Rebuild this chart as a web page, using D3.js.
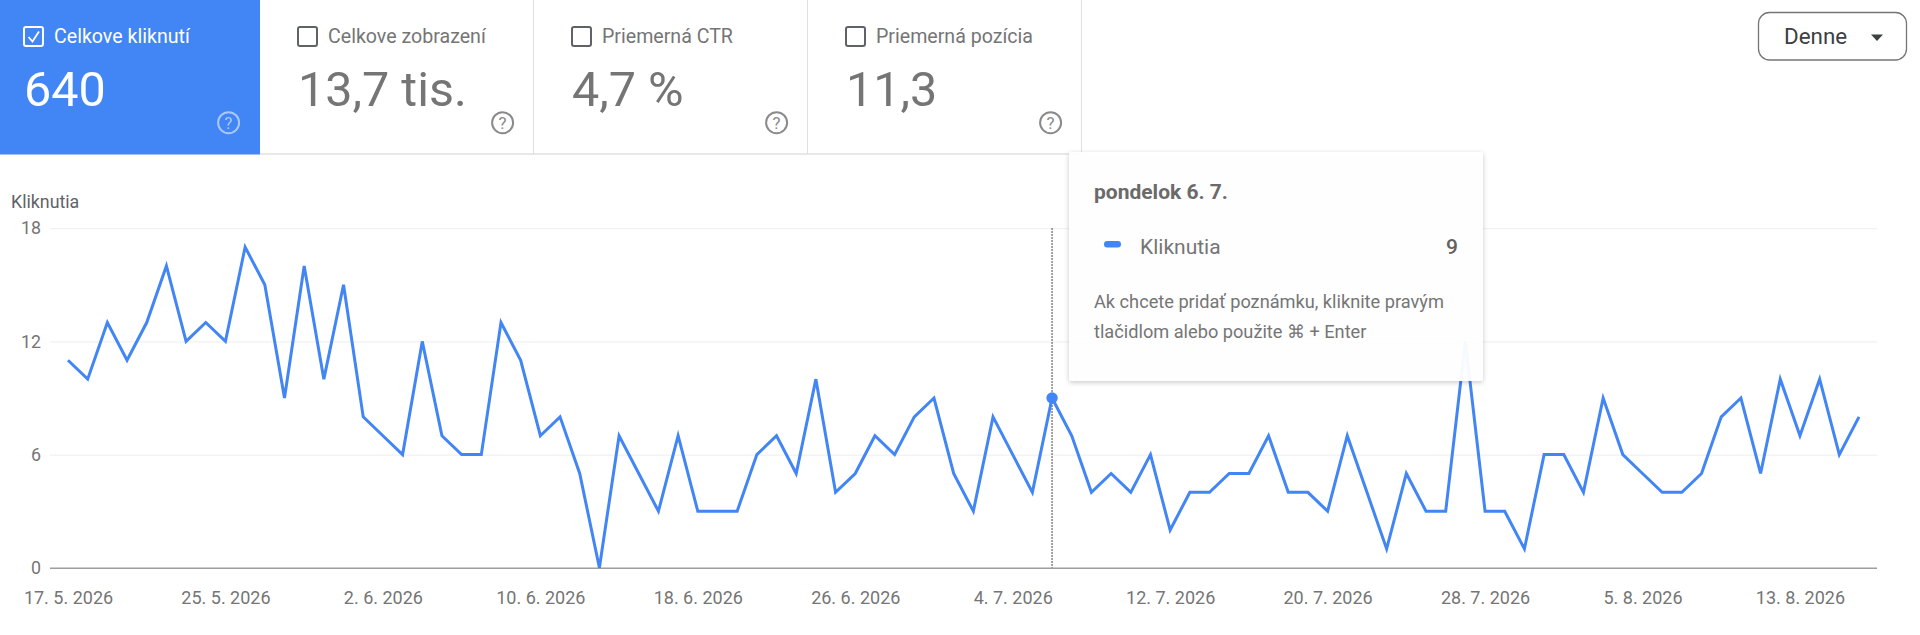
<!DOCTYPE html>
<html>
<head>
<meta charset="utf-8">
<script src="https://cdn.jsdelivr.net/npm/d3@7"></script>
<style>
  body { margin: 0; background: #fff; font-family: Roboto, sans-serif; }
  svg { display: block; }
</style>
</head>
<body>
<svg id="chart"></svg>
<script>
const clicks = [11,10,13,11,13,16,12,13,12,17,15,9,16,10,15,8,7,6,12,7,6,6,13,11,7,8,5,0,7,5,3,7,3,3,3,6,7,5,10,4,5,7,6,8,9,5,3,8,6,4,9,7,4,5,4,6,2,4,4,5,5,7,4,4,3,7,4,1,5,3,3,12,3,3,1,6,6,4,9,6,5,4,4,5,8,9,5,10,7,10,6,8];
const xTicks = ["2026-05-17","2026-05-25","2026-06-02","2026-06-10","2026-06-18","2026-06-26","2026-07-04","2026-07-12","2026-07-20","2026-07-28","2026-08-05","2026-08-13"];
const yTicks = [0, 6, 12, 18];
const cardLabels = ["Celkove kliknutí", "Celkove zobrazení", "Priemerná CTR", "Priemerná pozícia"];
const cardValues = ["640", "13,7 tis.", "4,7 %", "11,3"];
const hoverDate = "2026-07-06";

const width = 1920, height = 635;
const blue = "#4285f4", grey = "#757575";

const svg = d3.select("#chart").attr("width", width).attr("height", height);

const parse = d3.utcParse("%Y-%m-%d");
const start = parse("2026-05-17");
const data = clicks.map((v, i) => ({ date: d3.utcDay.offset(start, i), value: v }));

const x = d3.scaleUtc()
  .domain(d3.extent(data, d => d.date))
  .range([68, 1859]);
const y = d3.scaleLinear().domain([0, 18]).range([567.8, 228.2]);

// metric cards
const cardW = 274;
const cards = svg.selectAll("g.card")
  .data(cardLabels)
  .enter()
  .append("g")
  .attr("class", "card")
  .attr("transform", (d, i) => `translate(${i == 0 ? 0 : 260 + (i - 1) * cardW}, 0)`);

svg.append("line")
  .attr("x1", 260).attr("x2", 1082).attr("y1", 154).attr("y2", 154)
  .attr("stroke", "#e0e0e0").attr("stroke-width", 1.5);

cards.append("rect")
  .attr("width", (d, i) => i == 0 ? 260 : cardW)
  .attr("height", 154.5)
  .attr("fill", (d, i) => i == 0 ? blue : "#fff");

cards.filter((d, i) => i > 0).append("line")
  .attr("x1", cardW - 0.5).attr("x2", cardW - 0.5).attr("y1", 0).attr("y2", 154)
  .attr("stroke", "#e0e0e0").attr("stroke-width", 1);

cards.append("rect")
  .attr("x", (d, i) => i == 0 ? 24 : 38)
  .attr("y", 27)
  .attr("width", 19).attr("height", 19).attr("rx", 2)
  .attr("fill", "none")
  .attr("stroke", (d, i) => i == 0 ? "#fff" : "#5f6368")
  .attr("stroke-width", 2);

cards.filter((d, i) => i == 0).append("path")
  .attr("d", "M28.5,37 L32.5,41.5 L39,31.5")
  .attr("fill", "none").attr("stroke", "#fff").attr("stroke-width", 1.8);

cards.append("text")
  .attr("x", (d, i) => i == 0 ? 54 : 68)
  .attr("y", 43)
  .attr("font-size", 19.6)
  .attr("fill", (d, i) => i == 0 ? "#fff" : grey)
  .text(d => d);

cards.append("text")
  .attr("x", (d, i) => i == 0 ? 24 : 38)
  .attr("y", 106)
  .attr("font-size", 48.5)
  .attr("font-weight", 400)
  .attr("fill", (d, i) => i == 0 ? "#fff" : grey)
  .text((d, i) => cardValues[i]);

const help = cards.append("g")
  .attr("transform", (d, i) => `translate(${i == 0 ? 228.6 : 242.6}, 122.7)`)
  .attr("opacity", (d, i) => i == 0 ? 0.55 : 1);
help.append("circle")
  .attr("r", 10.5).attr("fill", "none")
  .attr("stroke", (d, i) => i == 0 ? "#fff" : "#8a8a8a").attr("stroke-width", 2);
help.append("text")
  .attr("text-anchor", "middle").attr("y", 6)
  .attr("font-size", 17)
  .attr("fill", (d, i) => i == 0 ? "#fff" : "#8a8a8a")
  .text("?");

// period dropdown
svg.append("rect")
  .attr("x", 1758.5).attr("y", 12.5).attr("width", 148).attr("height", 47.5).attr("rx", 11)
  .attr("fill", "#fff").attr("stroke", "#757575").attr("stroke-width", 1.3);
svg.append("text")
  .attr("x", 1784).attr("y", 44)
  .attr("font-size", 22.4).attr("fill", "#3c4043")
  .text("Denne");
svg.append("path")
  .attr("d", "M1871,34.5 L1883,34.5 L1877,41 Z")
  .attr("fill", "#3c4043");

// axes
svg.append("text")
  .attr("x", 11).attr("y", 208)
  .attr("font-size", 17.8).attr("fill", "#5f6368")
  .text("Kliknutia");

const yAxis = svg.append("g")
  .attr("transform", "translate(50, 0)")
  .call(d3.axisLeft(y).tickValues(yTicks).tickSize(-1827).tickPadding(9));
yAxis.select(".domain").remove();
yAxis.selectAll("line").attr("stroke", d => d == 0 ? "#9e9e9e" : "#f0f1f2")
  .attr("stroke-width", d => d == 0 ? 1.6 : 1.3);
yAxis.selectAll("text")
  .attr("font-family", "Roboto").attr("font-size", 17.8).attr("fill", grey);

const xAxis = svg.append("g")
  .attr("transform", "translate(0, 567.8)")
  .call(d3.axisBottom(x)
    .tickValues(xTicks.map(parse))
    .tickFormat(d3.utcFormat("%-d. %-m. %Y"))
    .tickSize(0).tickPadding(22));
xAxis.select(".domain").remove();
xAxis.selectAll("text")
  .attr("font-family", "Roboto").attr("font-size", 18).attr("fill", grey)
  .attr("dy", 0).attr("y", 36.5);

// crosshair
const hover = data.find(d => +d.date == +parse(hoverDate));
svg.append("line")
  .attr("x1", x(hover.date)).attr("x2", x(hover.date))
  .attr("y1", y(18)).attr("y2", y(0))
  .attr("stroke", "#444").attr("stroke-width", 1.3)
  .attr("stroke-dasharray", "1.5,1.5");

const line = d3.line().x(d => x(d.date)).y(d => y(d.value));
svg.append("path")
  .datum(data)
  .attr("d", line)
  .attr("fill", "none")
  .attr("stroke", blue)
  .attr("stroke-width", 3);

svg.append("circle")
  .attr("cx", x(hover.date)).attr("cy", y(hover.value)).attr("r", 5.7)
  .attr("fill", blue);

// tooltip
const defs = svg.append("defs");
const shadow = defs.append("filter").attr("id", "shadow")
  .attr("x", "-5%").attr("y", "-5%").attr("width", "110%").attr("height", "115%");
shadow.append("feDropShadow")
  .attr("dx", 0).attr("dy", 1.5).attr("stdDeviation", 2.5)
  .attr("flood-color", "#000").attr("flood-opacity", 0.22);

const tip = svg.append("g").attr("transform", "translate(1069, 152)");
tip.append("rect")
  .attr("width", 414).attr("height", 229).attr("rx", 2)
  .attr("fill", "#fff").attr("fill-opacity", 0.95)
  .attr("filter", "url(#shadow)");
tip.append("text")
  .attr("x", 25).attr("y", 47)
  .attr("font-size", 21).attr("font-weight", 700).attr("fill", "#6a6a6a")
  .text("pondelok 6. 7.");
tip.append("rect")
  .attr("x", 35).attr("y", 89).attr("width", 17).attr("height", 6.5).attr("rx", 3.2)
  .attr("fill", blue);
tip.append("text")
  .attr("x", 71).attr("y", 101.5)
  .attr("font-size", 21).attr("fill", grey)
  .text("Kliknutia");
tip.append("text")
  .attr("x", 389).attr("y", 101.5).attr("text-anchor", "end")
  .attr("font-size", 21).attr("font-weight", 500).attr("fill", "#616161")
  .text(hover.value);
tip.append("text")
  .attr("x", 25).attr("y", 156)
  .attr("font-size", 18.2).attr("fill", grey)
  .text("Ak chcete pridať poznámku, kliknite pravým");
tip.append("text")
  .attr("x", 25).attr("y", 186)
  .attr("font-size", 18.2).attr("fill", grey)
  .text("tlačidlom alebo použite ⌘ + Enter");
</script>
</body>
</html>
